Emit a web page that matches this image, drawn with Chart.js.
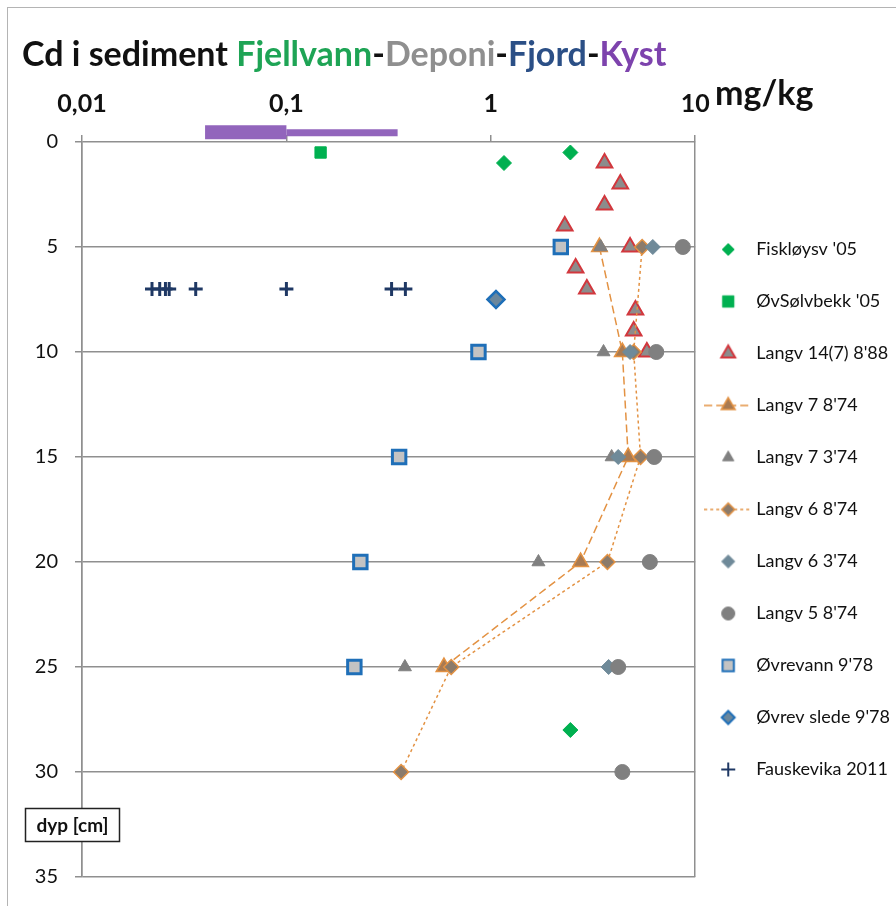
<!DOCTYPE html>
<html>
<head>
<meta charset="utf-8">
<script src="https://cdn.jsdelivr.net/npm/chart.js@4.4.1/dist/chart.umd.min.js"></script>
<style>
  html, body { margin: 0; padding: 0; background: #fff; }
  #wrap { width: 896px; height: 906px; position: relative; }
</style>
</head>
<body>
<div id="wrap"><canvas id="cdChart"></canvas></div>
<script>
// x axis (mg/kg, log) and depth axis
const xTickValues = [0.01, 0.1, 1, 10];
const xTickLabels = ['0,01', '0,1', '1', '10'];
const depthMax = 35;
const depthStep = 5;

// Cd (mg/kg) against depth (cm), one pair of arrays per core
const fiskloysvDepth = [0.5, 1, 28];
const fiskloysvCd = [2.45, 1.16, 2.45];
const solvbekkDepth = [0.5];
const solvbekkCd = [0.147];
const langv14Depth = [1, 2, 3, 4, 5, 6, 7, 8, 9, 10];
const langv14Cd = [3.6, 4.3, 3.6, 2.3, 4.8, 2.6, 2.95, 5.1, 5.0, 5.8];
const langv7augDepth = [5, 10, 15, 20, 25];
const langv7augCd = [3.4, 4.4, 4.7, 2.75, 0.59];
const langv7marDepth = [5, 10, 15, 20, 25];
const langv7marCd = [3.45, 3.56, 3.9, 1.71, 0.38];
const langv6augDepth = [5, 10, 15, 20, 25, 30];
const langv6augCd = [5.5, 5.0, 5.4, 3.72, 0.64, 0.364];
const langv6marDepth = [5, 10, 15, 25];
const langv6marCd = [6.2, 4.8, 4.2, 3.77];
const langv5Depth = [5, 10, 15, 20, 25, 30];
const langv5Cd = [8.7, 6.45, 6.3, 6.0, 4.2, 4.4];
const ovrevannDepth = [5, 10, 15, 20, 25];
const ovrevannCd = [2.2, 0.87, 0.356, 0.23, 0.215];
const sledeDepth = [7.5];
const sledeCd = [1.06];
const fauskevikaDepth = [7, 7, 7, 7, 7, 7, 7, 7];
const fauskevikaCd = [0.022, 0.024, 0.0256, 0.0267, 0.036, 0.1, 0.327, 0.382];

// coastal range bar drawn above the depth axis
const kystRangeCd = [0.04, 0.1, 0.35];
const kystDepth = [-0.47, -0.44];

const ORANGE = '#e39243';

function pts(xs, ys) {
    return xs.map((x, i) => ({ x: x, y: ys[i] }));
}

function series(label, cd, depth, style) {
    return Object.assign({
        label: label,
        data: pts(cd, depth),
        showLine: false,
        pointHoverRadius: style.pointRadius
    }, style);
}

const datasets = [
    series('Fiskløysv \'05', fiskloysvCd, fiskloysvDepth, {
        pointStyle: 'rectRot', pointRadius: 7.5, backgroundColor: '#00b050', borderColor: '#00b050', pointBorderWidth: 1, legendRadius: 6
    }),
    series('ØvSølvbekk \'05', solvbekkCd, solvbekkDepth, {
        pointStyle: 'rect', pointRadius: 8, backgroundColor: '#00b050', borderColor: '#00b050', pointBorderWidth: 1, legendRadius: 8
    }),
    series('Langv 14(7) 8\'88', langv14Cd, langv14Depth, {
        pointStyle: 'triangle', pointRadius: 9, backgroundColor: '#8c8c8c', borderColor: '#d2373d', pointBorderWidth: 2, legendRadius: 8
    }),
    series('Langv 7 8\'74', langv7augCd, langv7augDepth, {
        pointStyle: 'triangle', pointRadius: 9, backgroundColor: '#a87a52', borderColor: ORANGE, pointBorderWidth: 1.5,
        showLine: true, borderWidth: 1.5, borderDash: [8, 4], legendRadius: 8, legendLine: true
    }),
    series('Langv 7 3\'74', langv7marCd, langv7marDepth, {
        pointStyle: 'triangle', pointRadius: 7.5, backgroundColor: '#808080', borderColor: '#808080', pointBorderWidth: 1, legendRadius: 6.5
    }),
    series('Langv 6 8\'74', langv6augCd, langv6augDepth, {
        pointStyle: 'rectRot', pointRadius: 7.5, backgroundColor: '#8b7b6b', borderColor: ORANGE, pointBorderWidth: 1.5,
        showLine: true, borderWidth: 1.5, borderDash: [3, 3], legendRadius: 6.5, legendLine: true
    }),
    series('Langv 6 3\'74', langv6marCd, langv6marDepth, {
        pointStyle: 'rectRot', pointRadius: 7.5, backgroundColor: '#6f8a99', borderColor: '#6f8a99', pointBorderWidth: 1, legendRadius: 6.5
    }),
    series('Langv 5 8\'74', langv5Cd, langv5Depth, {
        pointStyle: 'circle', pointRadius: 7.5, backgroundColor: '#808080', borderColor: '#808080', pointBorderWidth: 1, legendRadius: 6.5
    }),
    series('Øvrevann 9\'78', ovrevannCd, ovrevannDepth, {
        pointStyle: 'rect', pointRadius: 9.5, backgroundColor: '#c3c3c3', borderColor: '#1f6fb8', pointBorderWidth: 3, legendRadius: 8
    }),
    series('Øvrev slede 9\'78', sledeCd, sledeDepth, {
        pointStyle: 'rectRot', pointRadius: 8.5, backgroundColor: '#6a879d', borderColor: '#1f6fb8', pointBorderWidth: 2.5, legendRadius: 6.5
    }),
    series('Fauskevika 2011', fauskevikaCd, fauskevikaDepth, {
        pointStyle: 'cross', pointRadius: 7, backgroundColor: '#1f3864', borderColor: '#1f3864', pointBorderWidth: 3, legendRadius: 7
    }),
    {
        label: 'Kyst', noLegend: true,
        data: pts(kystRangeCd.slice(0, 2), [kystDepth[0], kystDepth[0]]),
        showLine: true, borderColor: '#9265bc', borderWidth: 14, borderCapStyle: 'butt',
        pointRadius: 0, pointHoverRadius: 0, clip: false
    },
    {
        label: 'Kyst', noLegend: true,
        data: pts(kystRangeCd.slice(1, 3), [kystDepth[1], kystDepth[1]]),
        showLine: true, borderColor: '#9265bc', borderWidth: 7, borderCapStyle: 'butt',
        pointRadius: 0, pointHoverRadius: 0, clip: false
    }
];

// later series sit on top, like in the spreadsheet
datasets.forEach((ds, i) => { ds.order = datasets.length - i; });

// legend icons: marker (drawn 10px left of the icon centre), plus the dashed line for the two profiles
function legendIcon(ds) {
    const c = document.createElement('canvas');
    c.width = 68;
    c.height = 22;
    const g = c.getContext('2d');
    const mx = 24, my = 11;
    if (ds.legendLine) {
        g.strokeStyle = ds.borderColor;
        g.lineWidth = 1.5;
        g.setLineDash(ds.borderDash);
        g.beginPath();
        g.moveTo(0, my);
        g.lineTo(48, my);
        g.stroke();
        g.setLineDash([]);
    }
    g.fillStyle = ds.backgroundColor;
    g.strokeStyle = ds.borderColor;
    g.lineWidth = ds.pointStyle === 'cross' ? 2 : Math.min(ds.pointBorderWidth, 2);
    Chart.helpers.drawPoint(g, {
        pointStyle: ds.pointStyle, radius: ds.legendRadius, rotation: 0, borderWidth: g.lineWidth
    }, mx, my);
    return c;
}

const decorPlugin = {
    id: 'decor',
    beforeDraw(chart) {
        const ctx = chart.ctx;
        ctx.save();
        ctx.strokeStyle = '#b4b4b4';
        ctx.lineWidth = 1;
        ctx.strokeRect(7.5, 7.5, chart.width + 20, chart.height + 20);
        ctx.restore();
    },
    afterDraw(chart) {
        const ctx = chart.ctx;
        ctx.save();
        // multicoloured title
        const parts = [
            ['Cd i sediment ', '#111111'], ['Fjellvann', '#1ea455'], ['-', '#111111'],
            ['Deponi', '#8f8f8f'], ['-', '#111111'], ['Fjord', '#2b4f86'], ['-', '#111111'], ['Kyst', '#7d43ad']
        ];
        ctx.font = 'bold 34px Lato';
        ctx.textBaseline = 'alphabetic';
        ctx.textAlign = 'left';
        let x = 22;
        parts.forEach(p => {
            ctx.fillStyle = p[1];
            ctx.fillText(p[0], x, 66);
            x += ctx.measureText(p[0]).width;
        });
        // unit
        ctx.font = 'bold 34px Lato';
        ctx.fillStyle = '#111111';
        ctx.fillText('mg/kg', 715, 105);
        // depth label box
        ctx.fillStyle = '#ffffff';
        ctx.fillRect(25, 808, 95, 34);
        ctx.strokeStyle = '#222222';
        ctx.lineWidth = 1.5;
        ctx.strokeRect(25.5, 808.5, 94, 33);
        ctx.fillStyle = '#111111';
        ctx.font = 'bold 19px Lato';
        ctx.textAlign = 'center';
        ctx.textBaseline = 'middle';
        ctx.fillText('dyp [cm]', 72.5, 826);
        ctx.restore();
    }
};

Chart.defaults.font.family = 'Lato';
Chart.defaults.color = '#111111';

new Chart(document.getElementById('cdChart'), {
    type: 'scatter',
    data: { datasets: datasets },
    options: {
        responsive: true,
        maintainAspectRatio: false,
        animation: false,
        layout: { padding: { top: 75, left: 0, right: -4, bottom: 25 } },
        scales: {
            x: {
                type: 'logarithmic',
                position: 'top',
                min: xTickValues[0],
                max: xTickValues[xTickValues.length - 1],
                afterBuildTicks: s => { s.ticks = xTickValues.map(v => ({ value: v })); },
                afterFit: s => { s.height = 67; },
                ticks: {
                    autoSkip: false,
                    maxRotation: 0,
                    padding: 16,
                    font: { size: 25, weight: 'bold' },
                    callback: (v, i) => xTickLabels[i]
                },
                grid: {
                    color: c => (c.index === 0 || c.index === xTickValues.length - 1) ? '#8f8f8f' : 'rgba(0,0,0,0)',
                    tickColor: '#8f8f8f',
                    lineWidth: 1.5,
                    tickLength: 7
                },
                border: { display: false }
            },
            y: {
                type: 'linear',
                reverse: true,
                min: 0,
                max: depthMax,
                afterFit: s => { s.width = 82; },
                ticks: {
                    stepSize: depthStep,
                    padding: 17,
                    font: { size: 20 }
                },
                grid: {
                    color: '#8f8f8f',
                    lineWidth: 1.5,
                    tickLength: 7
                },
                border: { display: true, color: '#8f8f8f', width: 1.5 }
            }
        },
        plugins: {
            title: { display: false },
            tooltip: { enabled: false },
            legend: {
                position: 'right',
                fullSize: false,
                labels: {
                    usePointStyle: true,
                    boxWidth: 18,
                    boxHeight: 18,
                    padding: 34,
                    color: '#111111',
                    font: { size: 18 },
                    generateLabels: chart => chart.data.datasets
                        .map((ds, i) => ({
                            text: ds.label,
                            datasetIndex: i,
                            hidden: false,
                            fillStyle: ds.backgroundColor,
                            strokeStyle: ds.borderColor,
                            lineWidth: 0,
                            pointStyle: ds.noLegend ? 'circle' : legendIcon(ds),
                            fontColor: '#111111',
                            skip: !!ds.noLegend
                        }))
                        .filter(item => !item.skip)
                }
            }
        }
    },
    plugins: [decorPlugin]
});
</script>
</body>
</html>
